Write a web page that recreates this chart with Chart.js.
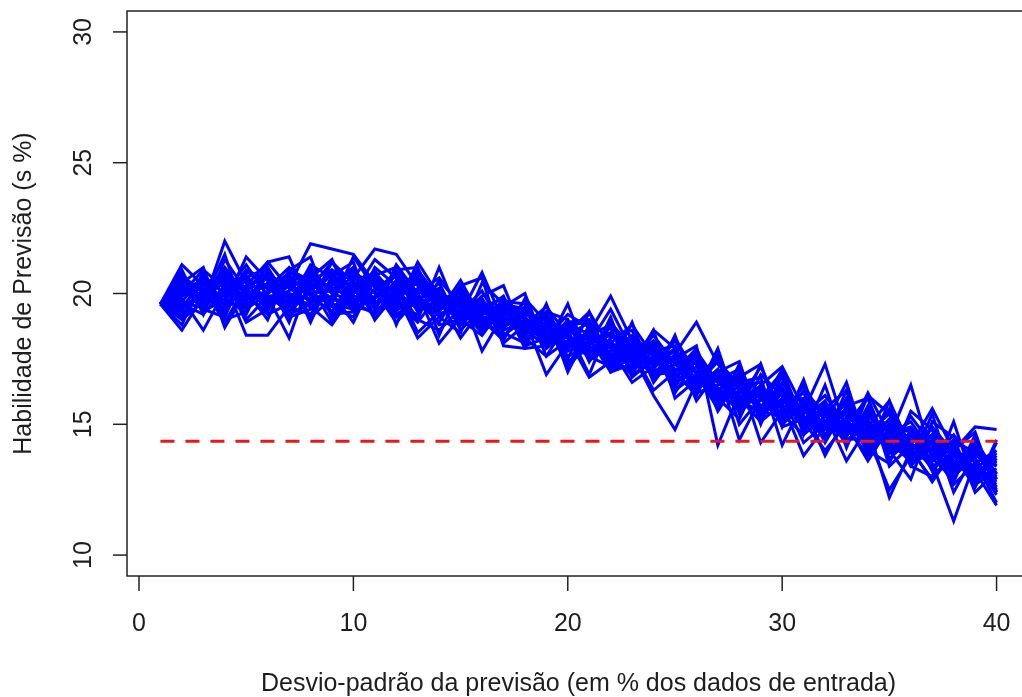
<!DOCTYPE html>
<html>
<head>
<meta charset="utf-8">
<script src="https://cdn.jsdelivr.net/npm/chart.js@4/dist/chart.umd.min.js"></script>
<style>
    html, body { margin: 0; padding: 0; background: #fff; overflow: hidden; }
    #wrap { width: 1032px; height: 697px; }
</style>
</head>
<body>
<div id="wrap"><canvas id="skillChart" width="1032" height="697"></canvas></div>
<script>
// forecast standard deviation (% of input data)
const xValues = [1, 2, 3, 4, 5, 6, 7, 8, 9, 10, 11, 12, 13, 14, 15, 16, 17, 18, 19, 20,
                 21, 22, 23, 24, 25, 26, 27, 28, 29, 30, 31, 32, 33, 34, 35, 36, 37, 38, 39, 40];

// forecast skill of each perturbed run (s %)
const runs = [
    [19.6, 21.1, 20.3, 20.6, 19.8, 20.4, 19.6, 20.5, 20.9, 20.2, 20.4, 19.5, 19.9, 19.2, 19.6, 18.9, 19.3, 18.6, 18.9, 18.0, 18.4, 17.6, 18.1, 17.2, 17.6, 16.6, 17.0, 15.8, 16.3, 15.2, 15.9, 14.9, 15.4, 14.5, 15.0, 14.1, 14.6, 13.3, 13.9, 12.9],
    [19.6, 19.3, 20.8, 19.5, 20.6, 19.7, 20.3, 21.9, 21.7, 21.5, 20.4, 20.1, 19.4, 20.0, 18.9, 19.5, 19.8, 18.7, 18.2, 18.9, 17.7, 18.5, 17.3, 17.9, 16.8, 17.4, 16.1, 16.7, 15.4, 16.2, 15.0, 15.7, 14.6, 15.1, 14.0, 14.7, 13.6, 14.2, 13.0, 13.6],
    [19.6, 20.2, 19.6, 22.0, 20.4, 19.5, 20.7, 19.9, 19.3, 20.6, 21.7, 21.5, 20.3, 19.6, 19.9, 19.1, 18.7, 19.3, 18.4, 18.6, 18.2, 17.5, 18.0, 17.0, 17.5, 16.4, 17.1, 15.9, 15.5, 16.4, 15.3, 14.8, 15.5, 14.4, 14.9, 13.8, 14.4, 13.4, 13.2, 12.8],
    [19.6, 18.6, 19.9, 20.4, 18.4, 18.4, 19.5, 20.8, 20.0, 19.7, 19.2, 20.3, 19.0, 18.6, 19.4, 18.5, 19.5, 18.2, 18.8, 17.4, 17.9, 18.2, 17.1, 17.6, 16.6, 17.2, 15.8, 16.3, 16.0, 15.1, 15.6, 14.6, 15.2, 14.2, 14.6, 13.5, 14.1, 13.2, 13.7, 12.5],
    [19.6, 20.6, 20.1, 19.6, 21.4, 20.5, 19.9, 20.2, 21.2, 20.0, 20.5, 19.4, 21.2, 19.9, 19.2, 20.8, 18.9, 19.1, 18.1, 18.7, 18.5, 19.9, 18.2, 17.3, 17.8, 16.7, 16.3, 16.8, 15.7, 15.9, 15.5, 17.3, 14.7, 15.3, 14.7, 14.9, 13.8, 14.4, 13.9, 13.4],
    [19.6, 19.8, 18.6, 20.1, 19.7, 20.8, 19.1, 19.4, 20.4, 20.8, 19.6, 20.0, 18.3, 19.1, 19.8, 19.0, 18.4, 19.0, 16.9, 18.1, 17.6, 17.8, 18.4, 16.9, 17.0, 17.6, 16.3, 15.5, 16.2, 15.4, 14.6, 15.3, 14.9, 13.8, 14.8, 14.3, 13.3, 13.9, 13.1, 12.7],
    [19.6, 20.0, 20.9, 20.2, 19.4, 20.0, 20.6, 19.1, 19.8, 19.5, 20.9, 19.2, 19.7, 20.4, 18.8, 19.7, 19.1, 18.4, 19.2, 18.3, 16.8, 17.4, 17.9, 18.0, 16.3, 16.9, 16.7, 16.0, 15.1, 15.8, 16.0, 14.6, 15.6, 15.0, 13.9, 14.5, 14.8, 13.6, 12.9, 13.3],
    [19.6, 19.5, 20.4, 20.7, 20.0, 19.2, 19.6, 21.1, 20.6, 19.3, 19.9, 20.7, 19.9, 19.3, 20.3, 18.7, 19.6, 19.4, 18.5, 18.8, 18.9, 17.3, 17.5, 18.4, 17.3, 16.5, 17.4, 16.5, 16.6, 14.9, 15.2, 15.9, 14.4, 14.9, 15.1, 13.9, 13.7, 14.6, 13.5, 14.0],
    [19.6, 20.4, 19.3, 19.8, 20.9, 20.2, 21.0, 20.0, 19.6, 21.4, 20.2, 19.8, 20.6, 19.7, 19.5, 19.8, 18.1, 18.8, 19.5, 18.4, 17.9, 18.0, 17.6, 17.1, 18.2, 17.0, 16.2, 16.0, 15.9, 16.8, 14.9, 15.1, 15.8, 14.6, 14.1, 15.3, 14.2, 13.1, 14.2, 12.9],
    [19.6, 19.1, 20.2, 18.9, 20.3, 21.2, 20.2, 19.7, 20.9, 20.5, 19.0, 20.2, 20.0, 18.8, 19.0, 19.3, 19.9, 18.0, 18.3, 19.2, 18.7, 17.1, 17.8, 17.7, 17.0, 16.1, 17.8, 15.6, 16.4, 15.6, 16.2, 14.8, 14.8, 15.4, 14.3, 13.6, 14.9, 13.9, 13.3, 13.9],
    [19.6, 20.3, 19.9, 21.0, 19.9, 19.9, 18.3, 20.6, 20.1, 20.0, 21.3, 20.6, 19.3, 19.8, 20.0, 17.8, 19.2, 18.9, 18.7, 17.6, 18.0, 18.7, 16.8, 17.5, 17.4, 17.3, 15.9, 17.0, 15.3, 16.0, 15.7, 13.8, 15.3, 14.7, 15.4, 14.0, 12.9, 14.0, 13.6, 12.3],
    [19.6, 19.7, 20.6, 19.3, 20.7, 19.6, 20.4, 20.3, 18.9, 20.3, 20.1, 18.9, 19.8, 20.2, 18.6, 19.4, 18.8, 19.7, 18.0, 19.0, 17.4, 18.3, 18.6, 16.6, 17.7, 18.9, 17.3, 16.4, 15.6, 17.1, 15.0, 15.6, 16.3, 14.1, 14.5, 16.5, 13.7, 12.9, 14.4, 13.1],
    [19.6, 20.8, 19.4, 20.3, 19.2, 20.9, 19.8, 19.6, 20.3, 21.0, 19.7, 19.6, 20.8, 19.5, 19.8, 18.9, 19.0, 18.5, 19.1, 17.9, 18.6, 17.7, 17.2, 18.1, 16.4, 17.8, 16.6, 15.9, 17.2, 15.5, 15.8, 15.5, 14.2, 15.7, 13.7, 14.4, 14.5, 13.8, 12.6, 14.4],
    [19.6, 19.4, 20.0, 20.5, 20.2, 19.4, 20.5, 20.7, 19.5, 19.1, 20.6, 20.0, 19.5, 19.2, 19.3, 20.1, 18.6, 18.9, 18.2, 18.5, 19.3, 17.9, 17.4, 17.0, 17.5, 18.0, 14.2, 16.2, 16.1, 15.2, 15.8, 14.8, 15.6, 14.9, 12.2, 14.0, 14.3, 13.4, 13.3, 12.9],
    [19.6, 20.1, 19.8, 19.9, 20.5, 20.3, 19.3, 20.1, 20.7, 19.8, 19.6, 20.5, 20.1, 19.6, 19.1, 19.6, 19.4, 18.3, 18.7, 18.1, 18.4, 18.8, 17.7, 16.1, 14.8, 16.6, 17.5, 16.3, 15.7, 15.8, 13.8, 14.9, 15.2, 14.0, 14.7, 13.9, 14.1, 13.0, 13.8, 13.5],
    [19.6, 19.9, 20.5, 19.2, 20.8, 20.6, 19.5, 19.2, 20.5, 20.7, 19.4, 19.5, 19.2, 20.5, 19.6, 18.6, 19.7, 19.6, 17.6, 18.2, 17.9, 18.1, 18.8, 17.6, 16.9, 16.3, 17.1, 14.4, 16.0, 16.3, 15.1, 15.4, 14.6, 15.2, 13.9, 14.6, 14.0, 12.7, 13.5, 12.6],
    [19.6, 20.5, 20.2, 19.6, 19.6, 20.1, 20.8, 20.4, 19.8, 19.6, 20.7, 21.0, 19.7, 18.9, 20.2, 19.3, 18.9, 19.2, 19.0, 17.2, 18.8, 17.4, 18.3, 17.8, 16.7, 17.9, 16.0, 16.8, 14.3, 15.5, 15.4, 16.1, 15.0, 13.6, 14.9, 14.7, 13.5, 11.3, 13.6, 12.0],
    [19.6, 19.6, 19.5, 20.8, 20.1, 19.8, 20.1, 20.9, 19.1, 20.4, 20.3, 19.3, 20.2, 20.1, 19.0, 19.8, 18.5, 18.1, 19.3, 19.0, 17.6, 17.2, 18.0, 17.3, 17.9, 16.4, 16.9, 16.6, 16.8, 14.2, 15.9, 14.3, 15.7, 16.0, 13.4, 14.2, 15.6, 14.0, 12.8, 13.7],
    [19.6, 20.0, 20.6, 20.0, 21.1, 19.9, 20.0, 19.8, 20.8, 19.9, 19.8, 20.4, 20.5, 19.4, 19.7, 19.1, 19.1, 18.7, 18.6, 18.6, 18.3, 17.0, 17.6, 18.2, 17.1, 16.8, 16.4, 15.7, 16.5, 17.2, 15.6, 15.0, 14.5, 16.2, 14.6, 15.1, 13.9, 14.0, 14.9, 14.8],
    [19.6, 19.2, 20.1, 20.9, 19.5, 20.7, 20.3, 20.0, 20.1, 20.9, 20.0, 19.7, 18.9, 20.0, 19.4, 19.5, 18.3, 19.5, 18.4, 18.3, 17.8, 17.6, 16.9, 17.4, 17.6, 17.3, 16.2, 16.4, 15.5, 15.3, 16.5, 15.1, 14.4, 14.5, 12.5, 13.8, 14.4, 13.5, 13.2, 11.9],
    [19.6, 20.3, 19.7, 20.0, 20.3, 20.2, 19.8, 20.6, 19.6, 19.4, 20.8, 19.9, 20.4, 19.6, 20.1, 19.2, 19.5, 19.0, 18.8, 17.8, 18.2, 18.5, 17.5, 17.5, 17.1, 16.6, 16.8, 16.1, 15.7, 16.2, 14.8, 15.8, 15.1, 14.3, 15.2, 13.4, 14.3, 14.3, 12.7, 13.2],
    [19.6, 19.9, 20.4, 19.7, 19.9, 19.3, 20.9, 20.5, 20.2, 20.1, 19.5, 20.4, 19.6, 19.9, 18.8, 19.6, 19.3, 18.6, 18.0, 18.8, 17.5, 18.0, 18.2, 17.7, 16.5, 17.5, 16.7, 17.1, 15.2, 16.6, 15.3, 14.5, 16.0, 14.8, 14.4, 14.6, 13.4, 13.8, 13.4, 12.6],
    [19.6, 20.7, 20.0, 19.4, 20.6, 21.0, 19.7, 19.5, 19.9, 20.7, 20.5, 19.1, 20.0, 20.6, 19.5, 18.8, 19.8, 19.1, 18.3, 18.4, 18.9, 17.5, 17.0, 17.8, 18.0, 16.2, 16.5, 16.9, 16.2, 15.0, 15.7, 15.3, 15.5, 14.4, 15.6, 13.6, 13.8, 14.2, 13.1, 13.8],
    [19.6, 19.6, 19.2, 20.2, 19.8, 20.1, 20.5, 20.2, 20.4, 19.6, 20.1, 20.8, 19.5, 19.4, 19.9, 19.5, 18.7, 19.3, 18.8, 18.0, 18.1, 18.4, 17.8, 16.9, 17.3, 17.0, 16.6, 15.8, 16.3, 15.7, 15.2, 15.6, 14.7, 15.5, 14.2, 14.0, 14.6, 13.3, 14.1, 13.4],
    [19.6, 20.9, 19.2, 21.3, 20.1, 21.0, 19.2, 19.6, 21.2, 20.4, 19.4, 20.9, 21.0, 19.1, 18.5, 20.4, 19.6, 17.9, 18.0, 19.6, 17.4, 19.1, 16.9, 18.6, 17.9, 15.9, 17.0, 17.4, 15.0, 16.9, 14.6, 16.5, 14.1, 16.1, 15.4, 13.4, 13.0, 15.1, 12.6, 14.3],
    [19.6, 18.8, 20.7, 19.0, 19.3, 21.2, 21.4, 19.5, 18.8, 20.0, 20.9, 18.8, 20.7, 18.4, 20.3, 20.6, 18.0, 17.9, 19.6, 17.5, 19.3, 17.2, 18.9, 16.7, 18.4, 16.2, 17.9, 15.4, 17.3, 14.9, 16.7, 14.4, 16.3, 13.9, 15.9, 13.5, 15.4, 12.8, 14.6, 12.4],
    [19.6, 20.4, 21.0, 18.7, 20.1, 19.0, 20.9, 21.4, 19.2, 19.3, 21.0, 20.3, 18.5, 19.3, 20.5, 19.0, 18.2, 19.8, 18.9, 17.2, 18.1, 19.4, 17.8, 16.3, 17.0, 17.9, 16.0, 15.2, 16.9, 16.1, 14.3, 15.0, 16.6, 14.0, 13.5, 15.5, 14.8, 12.4, 13.9, 13.0],
    [19.6, 19.0, 19.7, 21.5, 19.0, 19.9, 19.3, 20.6, 21.3, 19.5, 19.3, 21.1, 20.0, 18.1, 19.1, 19.9, 20.3, 18.3, 17.6, 18.9, 19.0, 17.0, 17.3, 18.6, 16.0, 16.7, 17.6, 15.0, 16.0, 17.0, 15.1, 14.0, 15.0, 16.0, 14.0, 12.9, 15.1, 14.5, 12.4, 13.2],
    [19.6, 20.6, 19.4, 19.1, 20.9, 20.5, 18.9, 21.0, 20.0, 18.9, 20.6, 19.6, 19.0, 21.0, 19.0, 18.4, 19.5, 20.0, 17.9, 18.6, 16.9, 18.9, 17.9, 17.9, 16.2, 17.5, 15.5, 16.8, 17.3, 15.0, 16.3, 15.4, 13.6, 14.9, 15.9, 14.1, 12.8, 14.0, 14.7, 12.4],
    [19.6, 19.5, 20.0, 20.6, 18.9, 19.4, 20.7, 18.9, 20.7, 21.2, 19.0, 20.0, 20.9, 19.8, 18.3, 19.4, 19.0, 18.6, 19.3, 17.0, 18.6, 17.9, 16.6, 17.2, 18.3, 16.9, 15.6, 17.3, 15.3, 16.2, 15.9, 14.9, 15.9, 13.8, 14.8, 14.8, 13.2, 13.4, 14.0, 12.9]
];

// reference skill level (dashed line)
const refLevel = [14.35, 14.35];
const refX = [1, 40];

const xTicks = [0, 10, 20, 30, 40];
const yTicks = [10, 15, 20, 25, 30];
const xTitle = 'Desvio-padrão da previsão (em % dos dados de entrada)';
const yTitle = 'Habilidade de Previsão (s %)';

const FONT = '25px "Liberation Sans", Arial, sans-serif';

// box, tick marks, rotated labels like base R graphics
const rFrame = {
    id: 'rFrame',
    afterDraw(chart) {
        const ctx = chart.ctx;
        const a = chart.chartArea;
        const xs = chart.scales.x, ys = chart.scales.y;
        ctx.save();
        ctx.strokeStyle = '#222';
        ctx.lineWidth = 1.5;
        ctx.strokeRect(a.left, a.top, a.right - a.left, a.bottom - a.top);

        ctx.font = FONT;
        ctx.fillStyle = '#1e1e1e';
        ctx.textAlign = 'center';
        ctx.textBaseline = 'alphabetic';

        xs.ticks.forEach(t => {
            const px = xs.getPixelForValue(t.value);
            ctx.beginPath();
            ctx.moveTo(px, a.bottom);
            ctx.lineTo(px, a.bottom + 15);
            ctx.stroke();
            ctx.fillText(t.label, px, 630.5);
        });

        ys.ticks.forEach(t => {
            const py = ys.getPixelForValue(t.value);
            ctx.beginPath();
            ctx.moveTo(a.left - 14, py);
            ctx.lineTo(a.left, py);
            ctx.stroke();
            ctx.save();
            ctx.translate(90.5, py);
            ctx.rotate(-Math.PI / 2);
            ctx.fillText(t.label, 0, 0);
            ctx.restore();
        });

        ctx.fillText(xTitle, (a.left + a.right) / 2, 691);
        ctx.save();
        ctx.translate(31, (a.top + a.bottom) / 2);
        ctx.rotate(-Math.PI / 2);
        ctx.fillText(yTitle, 0, 0);
        ctx.restore();
        ctx.restore();
    }
};

const datasets = [{
    data: refX.map((x, i) => ({ x: x, y: refLevel[i] })),
    borderColor: '#e81818',
    borderWidth: 3,
    borderDash: [14, 11],
    pointRadius: 0,
    order: 0
}];
runs.forEach(r => {
    datasets.push({
        data: r.map((v, i) => ({ x: xValues[i], y: v })),
        borderColor: '#0000ff',
        borderWidth: 3,
        pointRadius: 0,
        tension: 0,
        order: 1
    });
});

new Chart(document.getElementById('skillChart'), {
    type: 'line',
    data: { datasets: datasets },
    options: {
        responsive: false,
        animation: false,
        devicePixelRatio: 1,
        layout: { padding: { left: 0, top: 11, right: 2, bottom: 0 } },
        plugins: { legend: { display: false }, tooltip: { enabled: false } },
        scales: {
            x: {
                type: 'linear',
                min: -0.56,
                max: 41.56,
                grid: { display: false },
                border: { display: false },
                ticks: { display: false },
                afterBuildTicks: s => { s.ticks = xTicks.map(v => ({ value: v, label: String(v) })); },
                afterFit: s => { s.height = 121; }
            },
            y: {
                type: 'linear',
                min: 9.2,
                max: 30.8,
                grid: { display: false },
                border: { display: false },
                ticks: { display: false },
                afterBuildTicks: s => { s.ticks = yTicks.map(v => ({ value: v, label: String(v) })); },
                afterFit: s => { s.width = 127; }
            }
        }
    },
    plugins: [rFrame]
});
</script>
</body>
</html>
